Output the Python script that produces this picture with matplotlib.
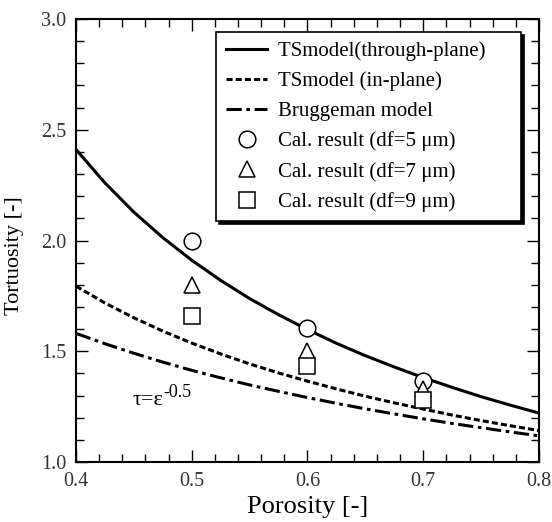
import numpy as np
import matplotlib
matplotlib.use("Agg")
import matplotlib.pyplot as plt

plt.rcParams['font.family'] = ['Liberation Serif', 'DejaVu Serif']
plt.rcParams['mathtext.fontset'] = 'stix'

# porosity grid for the model curves
porosity = [0.400, 0.425, 0.450, 0.475, 0.500, 0.525, 0.550, 0.575, 0.600,
            0.625, 0.650, 0.675, 0.700, 0.725, 0.750, 0.775, 0.800]
ts_through = [2.411, 2.260, 2.128, 2.013, 1.911, 1.820, 1.738, 1.665, 1.598,
              1.536, 1.480, 1.429, 1.381, 1.337, 1.295, 1.257, 1.221]
ts_inplane = [1.794, 1.718, 1.651, 1.591, 1.537, 1.488, 1.443, 1.402, 1.365,
              1.330, 1.297, 1.267, 1.239, 1.212, 1.187, 1.164, 1.142]
bruggeman = [1.581, 1.534, 1.491, 1.451, 1.414, 1.380, 1.348, 1.319, 1.291,
             1.265, 1.240, 1.217, 1.195, 1.174, 1.155, 1.136, 1.118]

# calculated results
cal_x = [0.5, 0.6, 0.7]
cal_df5 = [2.00, 1.606, 1.366]
cal_df7 = [1.80, 1.50, 1.33]
cal_df9 = [1.66, 1.433, 1.28]

fig = plt.figure(figsize=(5.52, 5.22), dpi=100)
ax = fig.add_axes([0.1377, 0.1149, 0.8387, 0.8487])

lw = 2.2
# trailing spaces widen the legend box on the right like the original
ax.plot(porosity, ts_through, color='k', lw=lw, label='TSmodel(through-plane)     ')
ax.plot(porosity, ts_inplane, color='k', lw=lw, dashes=(2, 1),
        label='TSmodel (in-plane)')
ax.plot(porosity, bruggeman, color='k', lw=lw, dashes=(5, 1.5, 1.2, 1.5),
        label='Bruggeman model')

mk = dict(ls='none', mfc='white', mec='k', mew=1.1, zorder=5)
ax.plot(cal_x, cal_df5, marker='o', ms=12, label='Cal. result (df=5 \u03bcm)', **mk)
ax.plot(cal_x, cal_df7, marker='^', ms=12, label='Cal. result (df=7 \u03bcm)', **mk)
ax.plot(cal_x, cal_df9, marker='s', ms=11, label='Cal. result (df=9 \u03bcm)', **mk)

# tau = eps^-0.5 label, superscript as a second text hung off the first
t1 = ax.text(0.449, 1.257, '\u03c4=\u03b5', fontsize=16)
ax.annotate('-0.5', xy=(1.0, 0.95), xycoords=t1, fontsize=13,
            ha='left', va='center')

ax.set_xlim(0.4, 0.8)
ax.set_ylim(1.0, 3.0)
ax.set_xticks([0.4, 0.5, 0.6, 0.7, 0.8])
ax.set_yticks([1.0, 1.5, 2.0, 2.5, 3.0])
ax.set_xticks(np.arange(0.4, 0.801, 0.02), minor=True)
ax.set_yticks(np.arange(1.0, 3.001, 0.1), minor=True)
ax.tick_params(which='both', direction='in', top=True, right=True,
               labelsize=14.5, pad=7, colors='k', labelcolor='#333333')
ax.tick_params(which='major', length=8.5, width=1.0)
ax.tick_params(which='minor', length=5.5, width=1.0)
for s in ax.spines.values():
    s.set_linewidth(1.5)

ax.set_xlabel('Porosity [-]', fontsize=19, labelpad=4)
ax.set_ylabel('Tortuosity [-]', fontsize=16)
ax.yaxis.set_label_coords(-0.112, 0.467)

leg = ax.legend(loc='upper right', bbox_to_anchor=(0.961, 0.971), borderaxespad=0,
                fontsize=15, fancybox=False, framealpha=1, edgecolor='k',
                shadow={'color': 'k', 'alpha': 1}, handlelength=2.0,
                labelspacing=0.5, borderpad=0.45, handletextpad=0.5)
leg.get_frame().set_linewidth(1.2)

fig.savefig('out.png', dpi=100)
